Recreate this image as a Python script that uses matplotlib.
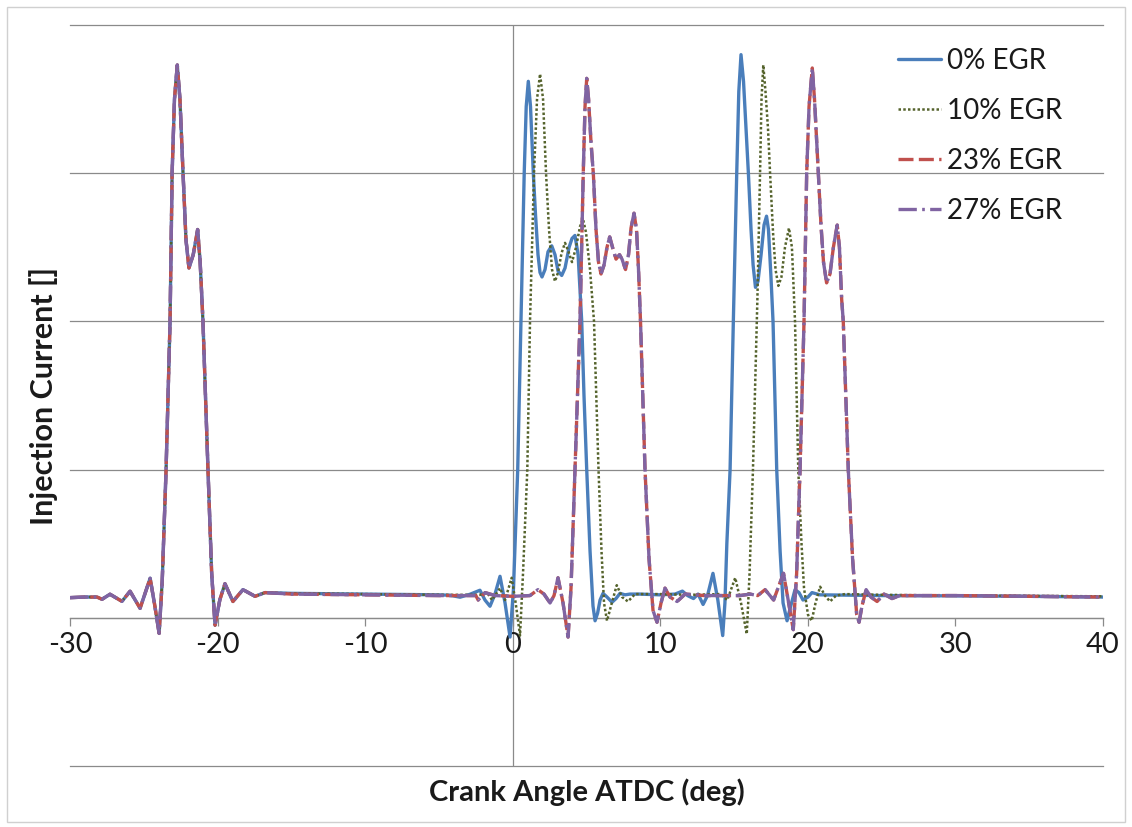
import matplotlib
matplotlib.use("Agg")
import matplotlib.pyplot as plt
from matplotlib.patches import Rectangle

plt.rcParams["font.family"] = ["Lato", "DejaVu Sans"]

# Pilot injection: identical for every EGR level (crank angle deg, current)
pilot = [(-30.0, 0.136), (-28.98, 0.14), (-28.17, 0.14), (-27.83, 0.125), (-27.29, 0.159),
         (-26.48, 0.111), (-25.93, 0.179), (-25.25, 0.064), (-24.57, 0.267), (-24.25, 0.08),
         (-23.96, -0.105), (-23.75, 0.25), (-23.49, 1.0), (-23.22, 2.0), (-23.08, 3.0),
         (-22.92, 3.5), (-22.73, 3.73), (-22.55, 3.5), (-22.34, 3.0), (-22.14, 2.55),
         (-21.94, 2.36), (-21.65, 2.45), (-21.35, 2.62), (-21.18, 2.4), (-20.99, 2.0),
         (-20.65, 1.0), (-20.4, 0.3), (-20.17, -0.05), (-19.85, 0.12), (-19.5, 0.23),
         (-18.96, 0.11), (-18.28, 0.19), (-17.46, 0.145), (-16.78, 0.17)]

# Main injections, 0% EGR
egr0 = [(-15, 0.165), (-10, 0.16), (-5, 0.155), (-4.25, 0.152), (-3.57, 0.139), (-2.89, 0.159),
        (-2.22, 0.186), (-1.88, 0.12), (-1.54, 0.078), (-1.2, 0.16), (-0.86, 0.28), (-0.52, 0.1),
        (-0.18, -0.13), (0.054, 0.2), (0.339, 1.0), (0.562, 2.0), (0.779, 3.0), (0.915, 3.45),
        (1.057, 3.62), (1.206, 3.45), (1.396, 3.0), (1.545, 2.72), (1.714, 2.45), (1.85, 2.33),
        (1.985, 2.30), (2.189, 2.35), (2.392, 2.47), (2.643, 2.51), (2.866, 2.45), (3.07, 2.34),
        (3.32, 2.31), (3.545, 2.36), (3.82, 2.50), (4.02, 2.56), (4.22, 2.58), (4.43, 2.45),
        (4.676, 2.0), (4.83, 1.5), (5.015, 1.0), (5.24, 0.45), (5.44, 0.08), (5.58, -0.02),
        (5.75, 0.03), (5.92, 0.12), (6.12, 0.165), (6.39, 0.14), (6.73, 0.105), (7.0, 0.13),
        (7.27, 0.165), (7.61, 0.155), (7.95, 0.16), (8.6, 0.16), (9.98, 0.155), (11.0, 0.16),
        (11.5, 0.18), (11.85, 0.15), (12.25, 0.13), (12.56, 0.16), (12.9, 0.09), (13.2, 0.15),
        (13.57, 0.30), (13.9, 0.12), (14.23, -0.12), (14.38, 0.1), (14.51, 0.5), (14.73, 1.0),
        (14.95, 2.0), (15.18, 3.0), (15.32, 3.55), (15.47, 3.80), (15.64, 3.62), (15.81, 3.3),
        (15.97, 3.0), (16.15, 2.62), (16.29, 2.38), (16.45, 2.23), (16.62, 2.27), (16.83, 2.45),
        (17.03, 2.65), (17.2, 2.71), (17.33, 2.62), (17.5, 2.3), (17.64, 2.0), (17.89, 1.0),
        (18.12, 0.45), (18.32, 0.1), (18.59, -0.02), (18.79, 0.06), (19.13, 0.19), (19.4, 0.17),
        (19.67, 0.12), (20.01, 0.14), (20.28, 0.17), (20.82, 0.155), (25, 0.15), (30, 0.148),
        (35, 0.145), (40, 0.14)]

# Main injections, 10% EGR
egr10 = [(-15, 0.165), (-10, 0.16), (-5, 0.155), (-2.22, 0.155), (-1.74, 0.17), (-1.4, 0.12),
         (-0.86, 0.2), (-0.52, 0.12), (-0.07, 0.27), (0.2, 0.1), (0.495, -0.12), (0.698, 0.3),
         (0.989, 1.0), (1.172, 2.0), (1.443, 3.0), (1.647, 3.5), (1.852, 3.67), (2.055, 3.5),
         (2.257, 3.0), (2.46, 2.62), (2.663, 2.35), (2.866, 2.27), (3.07, 2.33), (3.307, 2.46),
         (3.544, 2.53), (3.781, 2.47), (4.018, 2.40), (4.29, 2.5), (4.56, 2.64), (4.764, 2.69),
         (4.967, 2.6), (5.238, 2.35), (5.509, 2.0), (5.814, 1.0), (6.017, 0.45), (6.187, 0.1),
         (6.39, -0.02), (6.66, 0.08), (7.05, 0.22), (7.41, 0.14), (7.81, 0.11), (8.29, 0.16),
         (10, 0.16), (12, 0.155), (14.06, 0.16), (14.54, 0.12), (15.08, 0.27), (15.47, 0.10),
         (15.86, -0.11), (16.05, 0.3), (16.28, 1.0), (16.58, 2.15), (16.76, 3.0), (16.86, 3.5),
         (16.98, 3.73), (17.13, 3.55), (17.3, 3.3), (17.44, 3.0), (17.64, 2.6), (17.81, 2.35),
         (18.0, 2.24), (18.21, 2.3), (18.45, 2.5), (18.72, 2.63), (18.92, 2.5), (19.13, 2.0),
         (19.35, 1.0), (19.57, 0.5), (19.74, 0.2), (20.01, 0.02), (20.26, -0.02), (20.52, 0.1),
         (20.83, 0.21), (21.16, 0.15), (21.5, 0.11), (21.91, 0.15), (22.52, 0.16), (25, 0.155),
         (30, 0.15), (35, 0.148), (40, 0.145)]

# Main injections, 23% EGR
egr23 = [(-15, 0.16), (-10, 0.155), (-5, 0.15), (-2.5, 0.15), (-2.34, 0.12), (-1.87, 0.17),
         (-1.2, 0.15), (0, 0.145), (1.17, 0.15), (1.71, 0.19), (2.12, 0.16), (2.53, 0.10),
         (2.8, 0.15), (3.07, 0.27), (3.41, 0.1), (3.75, -0.13), (3.95, 0.2), (4.22, 1.0),
         (4.56, 2.0), (4.78, 3.0), (4.9, 3.45), (5.015, 3.64), (5.14, 3.5), (5.31, 3.2),
         (5.462, 3.0), (5.645, 2.62), (5.814, 2.4), (5.984, 2.32), (6.187, 2.38), (6.39, 2.5),
         (6.573, 2.57), (6.763, 2.5), (7.0, 2.42), (7.237, 2.45), (7.407, 2.42), (7.644, 2.35),
         (7.847, 2.45), (8.017, 2.63), (8.22, 2.73), (8.389, 2.62), (8.525, 2.35), (8.66, 2.0),
         (8.965, 1.0), (9.236, 0.4), (9.507, 0.05), (9.778, -0.03), (10.05, 0.1), (10.32, 0.2),
         (10.66, 0.14), (11.14, 0.11), (11.68, 0.16), (13, 0.15), (15.4, 0.15), (16.1, 0.16),
         (16.6, 0.15), (17.1, 0.19), (17.68, 0.12), (18.35, 0.30), (18.7, 0.1), (19.01, -0.08),
         (19.24, 0.3), (19.47, 1.0), (19.74, 2.0), (19.92, 3.0), (20.08, 3.45), (20.30, 3.71),
         (20.45, 3.5), (20.71, 3.0), (20.89, 2.65), (21.06, 2.4), (21.27, 2.26), (21.5, 2.32),
         (21.73, 2.5), (21.99, 2.65), (22.14, 2.5), (22.29, 2.15), (22.4, 2.0), (22.74, 1.0),
         (23.03, 0.4), (23.31, 0.02), (23.47, -0.03), (23.67, 0.08), (23.95, 0.19), (24.28, 0.14),
         (24.69, 0.11), (25.16, 0.16), (25.7, 0.13), (26.25, 0.15), (30, 0.15), (35, 0.145),
         (40, 0.14)]

# 27% EGR trace coincides with the 23% EGR trace
egr27 = list(egr23)

labels = ["0% EGR", "10% EGR", "23% EGR", "27% EGR"]
x_ticks = [-30, -20, -10, 0, 10, 20, 30, 40]
grid_levels = [-1, 0, 1, 2, 3, 4]

styles = [
    dict(color="#4a7ebb", lw=2.4, ls="-"),
    dict(color="#55632c", lw=1.8, ls=(0, (1, 0.9))),
    dict(color="#c0504d", lw=2.4, ls=(0, (4.5, 1.6))),
    dict(color="#8064a2", lw=2.4, ls=(0, (5.5, 1.6, 0.8, 1.6))),
]

fig = plt.figure(figsize=(11.32, 8.27), dpi=100)
fig.patches.append(Rectangle((0.006, 0.006), 0.988, 0.985, transform=fig.transFigure,
                             fill=False, edgecolor="#d0d0d0", lw=1.0))
ax = fig.add_axes([70 / 1132, 61 / 827, 1033 / 1132, 741 / 827])

grid_color = "#8a8a8a"
for g in grid_levels:
    ax.axhline(g, color=grid_color, lw=0.9, zorder=1, clip_on=False)
ax.axvline(0, color=grid_color, lw=0.9, zorder=1)

series = [egr0, egr10, egr23, egr27]
for i, (data, lab, st) in enumerate(zip(series, labels, styles)):
    pts = pilot + data
    xs = [p[0] for p in pts]
    ys = [p[1] for p in pts]
    ax.plot(xs, ys, label=lab, zorder=3 + i, solid_capstyle="round",
            solid_joinstyle="round", dash_capstyle="butt", **st)

ax.set_xlim(-30, 40)
ax.set_ylim(-1, 4)
ax.set_xticks(x_ticks)
ax.set_xticklabels([str(t) for t in x_ticks])
ax.set_yticks([])
for s in ["top", "right", "left"]:
    ax.spines[s].set_visible(False)
ax.spines["bottom"].set_position(("data", 0))
ax.spines["bottom"].set_color(grid_color)
ax.spines["bottom"].set_linewidth(0.9)
ax.tick_params(axis="x", direction="out", length=6, width=0.9, color=grid_color,
               labelsize=21, pad=4, labelcolor="#1a1a1a")

fig.text(44 / 1132, 1 - 396 / 827, "Injection Current []", rotation=90, ha="center",
         va="center", fontsize=22, fontweight="bold", color="#1a1a1a")
fig.text(587 / 1132, 1 - 792 / 827, "Crank Angle ATDC (deg)", ha="center", va="center",
         fontsize=21, fontweight="bold", color="#1a1a1a")

ax.legend(loc="upper left", bbox_to_anchor=(898 / 1132, 1 - 48 / 827),
          bbox_transform=fig.transFigure, frameon=False, fontsize=20,
          handlelength=1.55, handletextpad=0.2, labelspacing=0.86,
          borderpad=0, borderaxespad=0, labelcolor="#1a1a1a")

fig.savefig("out.png", dpi=100, facecolor="white")
